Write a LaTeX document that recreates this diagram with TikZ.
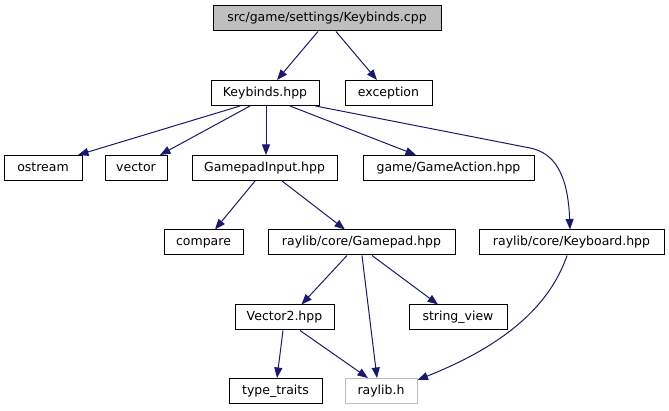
\documentclass[tikz,border=0pt]{standalone}
\usepackage{fontspec}
\setmainfont{DejaVu Sans}
\usetikzlibrary{arrows.meta}
\definecolor{edgeblue}{HTML}{191970}
\definecolor{rootfill}{HTML}{BFBFBF}
\definecolor{lightborder}{HTML}{BFBFBF}
\begin{document}
\begin{tikzpicture}[x=1pt,y=-1pt,
  box/.style={draw=black,line width=1pt,fill=white,minimum height=25pt,inner sep=0pt,
    text height=9.5pt,text depth=2.5pt,font=\fontsize{12.5}{15}\selectfont},
  dep/.style={draw=edgeblue,line width=1pt,-{Triangle[length=10.5pt,width=8pt]}}]
\useasboundingbox[fill=white] (0,0) rectangle (669,411);

% row 1
\node[box,fill=rootfill,minimum width=228pt] (root) at (327,18.5) {src/game/settings/Keybinds.cpp};
% row 2
\node[box,minimum width=108pt] (kb) at (265,93) {Keybinds.hpp};
\node[box,minimum width=87pt] (exc) at (388.5,93) {exception};
% row 3
\node[box,minimum width=78pt] (ost) at (43,168) {ostream};
\node[box,minimum width=62pt] (vec) at (136,168) {vector};
\node[box,minimum width=145pt] (gpi) at (264.5,168) {GamepadInput.hpp};
\node[box,minimum width=171pt] (ga) at (448.5,168) {game/GameAction.hpp};
% row 4
\node[box,minimum width=79pt] (cmp) at (203.5,242.5) {compare};
\node[box,minimum width=187pt] (gp) at (361.5,242.5) {raylib/core/Gamepad.hpp};
\node[box,minimum width=185pt] (kbd) at (571.5,242.5) {raylib/core/Keyboard.hpp};
% row 5
\node[box,minimum width=99pt] (v2) at (284.5,317.5) {Vector2.hpp};
\node[box,minimum width=98pt] (sv) at (458,317.5) {string\_view};
% row 6
\node[box,minimum width=93pt] (tt) at (275.5,391) {type\_traits};
\node[box,draw=lightborder,minimum width=72pt] (rl) at (381,391) {raylib.h};

% edges
\draw[dep] ([xshift=-9]root.south) -- ([xshift=12]kb.north);
\draw[dep] ([xshift=9]root.south) -- ([xshift=-11.5]exc.north);
\draw[dep] ([xshift=-25]kb.south) -- ([xshift=35]ost.north);
\draw[dep] ([xshift=-15]kb.south) -- ([xshift=24]vec.north);
\draw[dep] ([xshift=1]kb.south) -- ([xshift=1.5]gpi.north);
\draw[dep] ([xshift=25]kb.south) -- ([xshift=-32.5]ga.north);
\draw[dep] ([xshift=-4]kb.south east) -- (530,148) .. controls (555,153) and (568,175) .. ([xshift=-1.5]kbd.north);
\draw[dep] ([xshift=-9.5]gpi.south) -- ([xshift=11.5]cmp.north);
\draw[dep] ([xshift=17.5]gpi.south) -- ([xshift=-16.5]gp.north);
\draw[dep] ([xshift=-14.5]gp.south) -- ([xshift=17]v2.north);
\draw[dep] ([xshift=0.5]gp.south) -- ([xshift=-4]rl.north);
\draw[dep] ([xshift=10.5]gp.south) -- ([xshift=-20]sv.north);
\draw[dep] ([xshift=-1.5]v2.south) -- ([xshift=1.5]tt.north);
\draw[dep] ([xshift=15.5]v2.south) -- ([xshift=-13]rl.north);
\draw[dep] ([xshift=-4.5]kbd.south) .. controls (545,320) and (480,355) .. ([yshift=-2]rl.north east);
\end{tikzpicture}
\end{document}
